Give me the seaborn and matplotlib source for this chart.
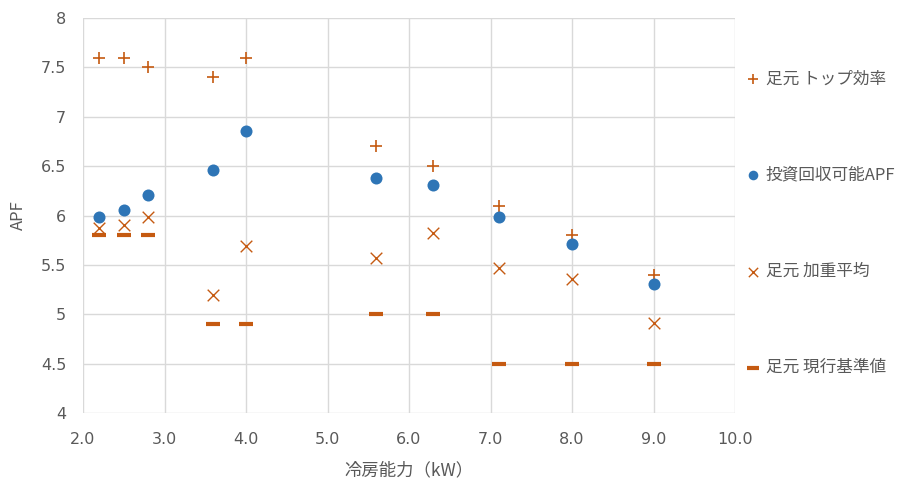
import matplotlib
matplotlib.use("Agg")
import matplotlib.pyplot as plt
import seaborn as sns
import pandas as pd

sns.set_theme(style="white")
plt.rcParams['font.family'] = ['Noto Sans CJK JP', 'DejaVu Sans']

capacity = [2.2, 2.5, 2.8, 3.6, 4.0, 5.6, 6.3, 7.1, 8.0, 9.0]
top_eff = [7.6, 7.6, 7.5, 7.4, 7.6, 6.7, 6.5, 6.1, 5.8, 5.4]
payback_apf = [5.98, 6.06, 6.21, 6.46, 6.86, 6.38, 6.31, 5.98, 5.71, 5.31]
weighted_avg = [5.87, 5.90, 5.98, 5.20, 5.69, 5.57, 5.82, 5.47, 5.36, 4.91]
standard = [5.8, 5.8, 5.8, 4.9, 4.9, 5.0, 5.0, 4.5, 4.5, 4.5]
labels = ["足元 トップ効率", "投資回収可能APF", "足元 加重平均", "足元 現行基準値"]
x_ticks = [2.0, 3.0, 4.0, 5.0, 6.0, 7.0, 8.0, 9.0, 10.0]
y_ticks = [4, 4.5, 5, 5.5, 6, 6.5, 7, 7.5, 8]

orange = "#C55A11"
blue = "#2E75B6"
text_gray = "#595959"

fig = plt.figure(figsize=(9.06, 4.82), dpi=100)
ax = fig.add_axes([83/906, 1-413/482, (735-83)/906, (413-18)/482])

series = [
    (top_eff, labels[0], dict(marker="+", s=80, color=orange, linewidth=1.2)),
    (payback_apf, labels[1], dict(marker="o", s=75, color=blue, edgecolor=blue, linewidth=0)),
    (weighted_avg, labels[2], dict(marker="x", s=70, color=orange, linewidth=1.0)),
    (standard, labels[3], dict(marker="_", s=100, color=orange, linewidth=3.0)),
]
for vals, lab, kw in series:
    df = pd.DataFrame({"x": capacity, "y": vals})
    sns.scatterplot(data=df, x="x", y="y", ax=ax, label=lab, zorder=3, **kw)

ax.set_xlim(2.0, 10.0)
ax.set_ylim(4, 8)
ax.set_xticks(x_ticks)
ax.set_xticklabels([f"{v:.1f}" for v in x_ticks], family="DejaVu Sans")
ax.set_yticks(y_ticks)
ax.set_yticklabels([f"{v:g}" for v in y_ticks], family="DejaVu Sans")
ax.grid(True, color="#D9D9D9", linewidth=1.0, zorder=0)
ax.set_axisbelow(True)
for sp in ax.spines.values():
    sp.set_visible(False)
ax.tick_params(axis="both", colors=text_gray, labelsize=11.5, length=0)
ax.tick_params(axis="x", pad=14)
ax.tick_params(axis="y", pad=12)
ax.set_xlabel("冷房能力（kW）", fontsize=12.5, color=text_gray, labelpad=10)
ax.set_ylabel("APF", fontsize=12, color=text_gray, labelpad=10)

leg = ax.legend(loc="center left", bbox_to_anchor=(1.01, 0.48), frameon=False,
                fontsize=12, labelcolor=text_gray, labelspacing=4.75,
                handlelength=0.6, handletextpad=0.45, markerscale=0.8, borderaxespad=0)

fig.savefig("out.png", dpi=100)
